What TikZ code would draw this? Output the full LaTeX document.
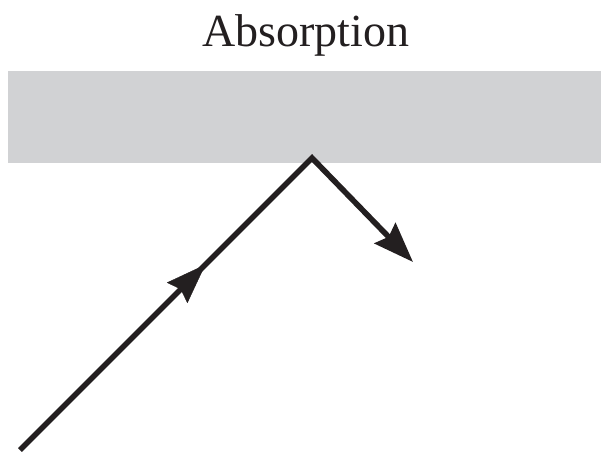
\documentclass[tikz,border=0pt]{standalone}
\usepackage{fontspec}
\setmainfont{Liberation Serif}
\usetikzlibrary{arrows.meta,decorations.markings}
\definecolor{band}{HTML}{D1D2D4}
\definecolor{ink}{HTML}{231F20}
\tikzset{
  tip/.tip={Stealth[length=40pt,width=29pt,inset=5pt]},
  ray/.style={draw=ink, line width=5.6pt, miter limit=10},
  midarrow/.style={color=ink, postaction={decorate}, decoration={markings,
    mark=at position #1 with {\arrow{tip}}}},
  title/.style={text=ink, font=\fontsize{46}{52}\selectfont, inner sep=0pt}
}
\begin{document}
\begin{tikzpicture}[x=1pt,y=-1pt]
  \useasboundingbox (0,0) rectangle (601,452);
  \fill[band] (8,71) rectangle (601,163);
  \node[title, anchor=base] (t) at (306,46) {Absorption};
  \coordinate (start) at (20,450);
  \coordinate (apex) at (312,158);
  \coordinate (stop) at (413,262);
  \draw[ray, -tip] (start) -- (apex) -- (stop);
  \path[midarrow=0.635] (start) -- (apex);
\end{tikzpicture}
\end{document}
